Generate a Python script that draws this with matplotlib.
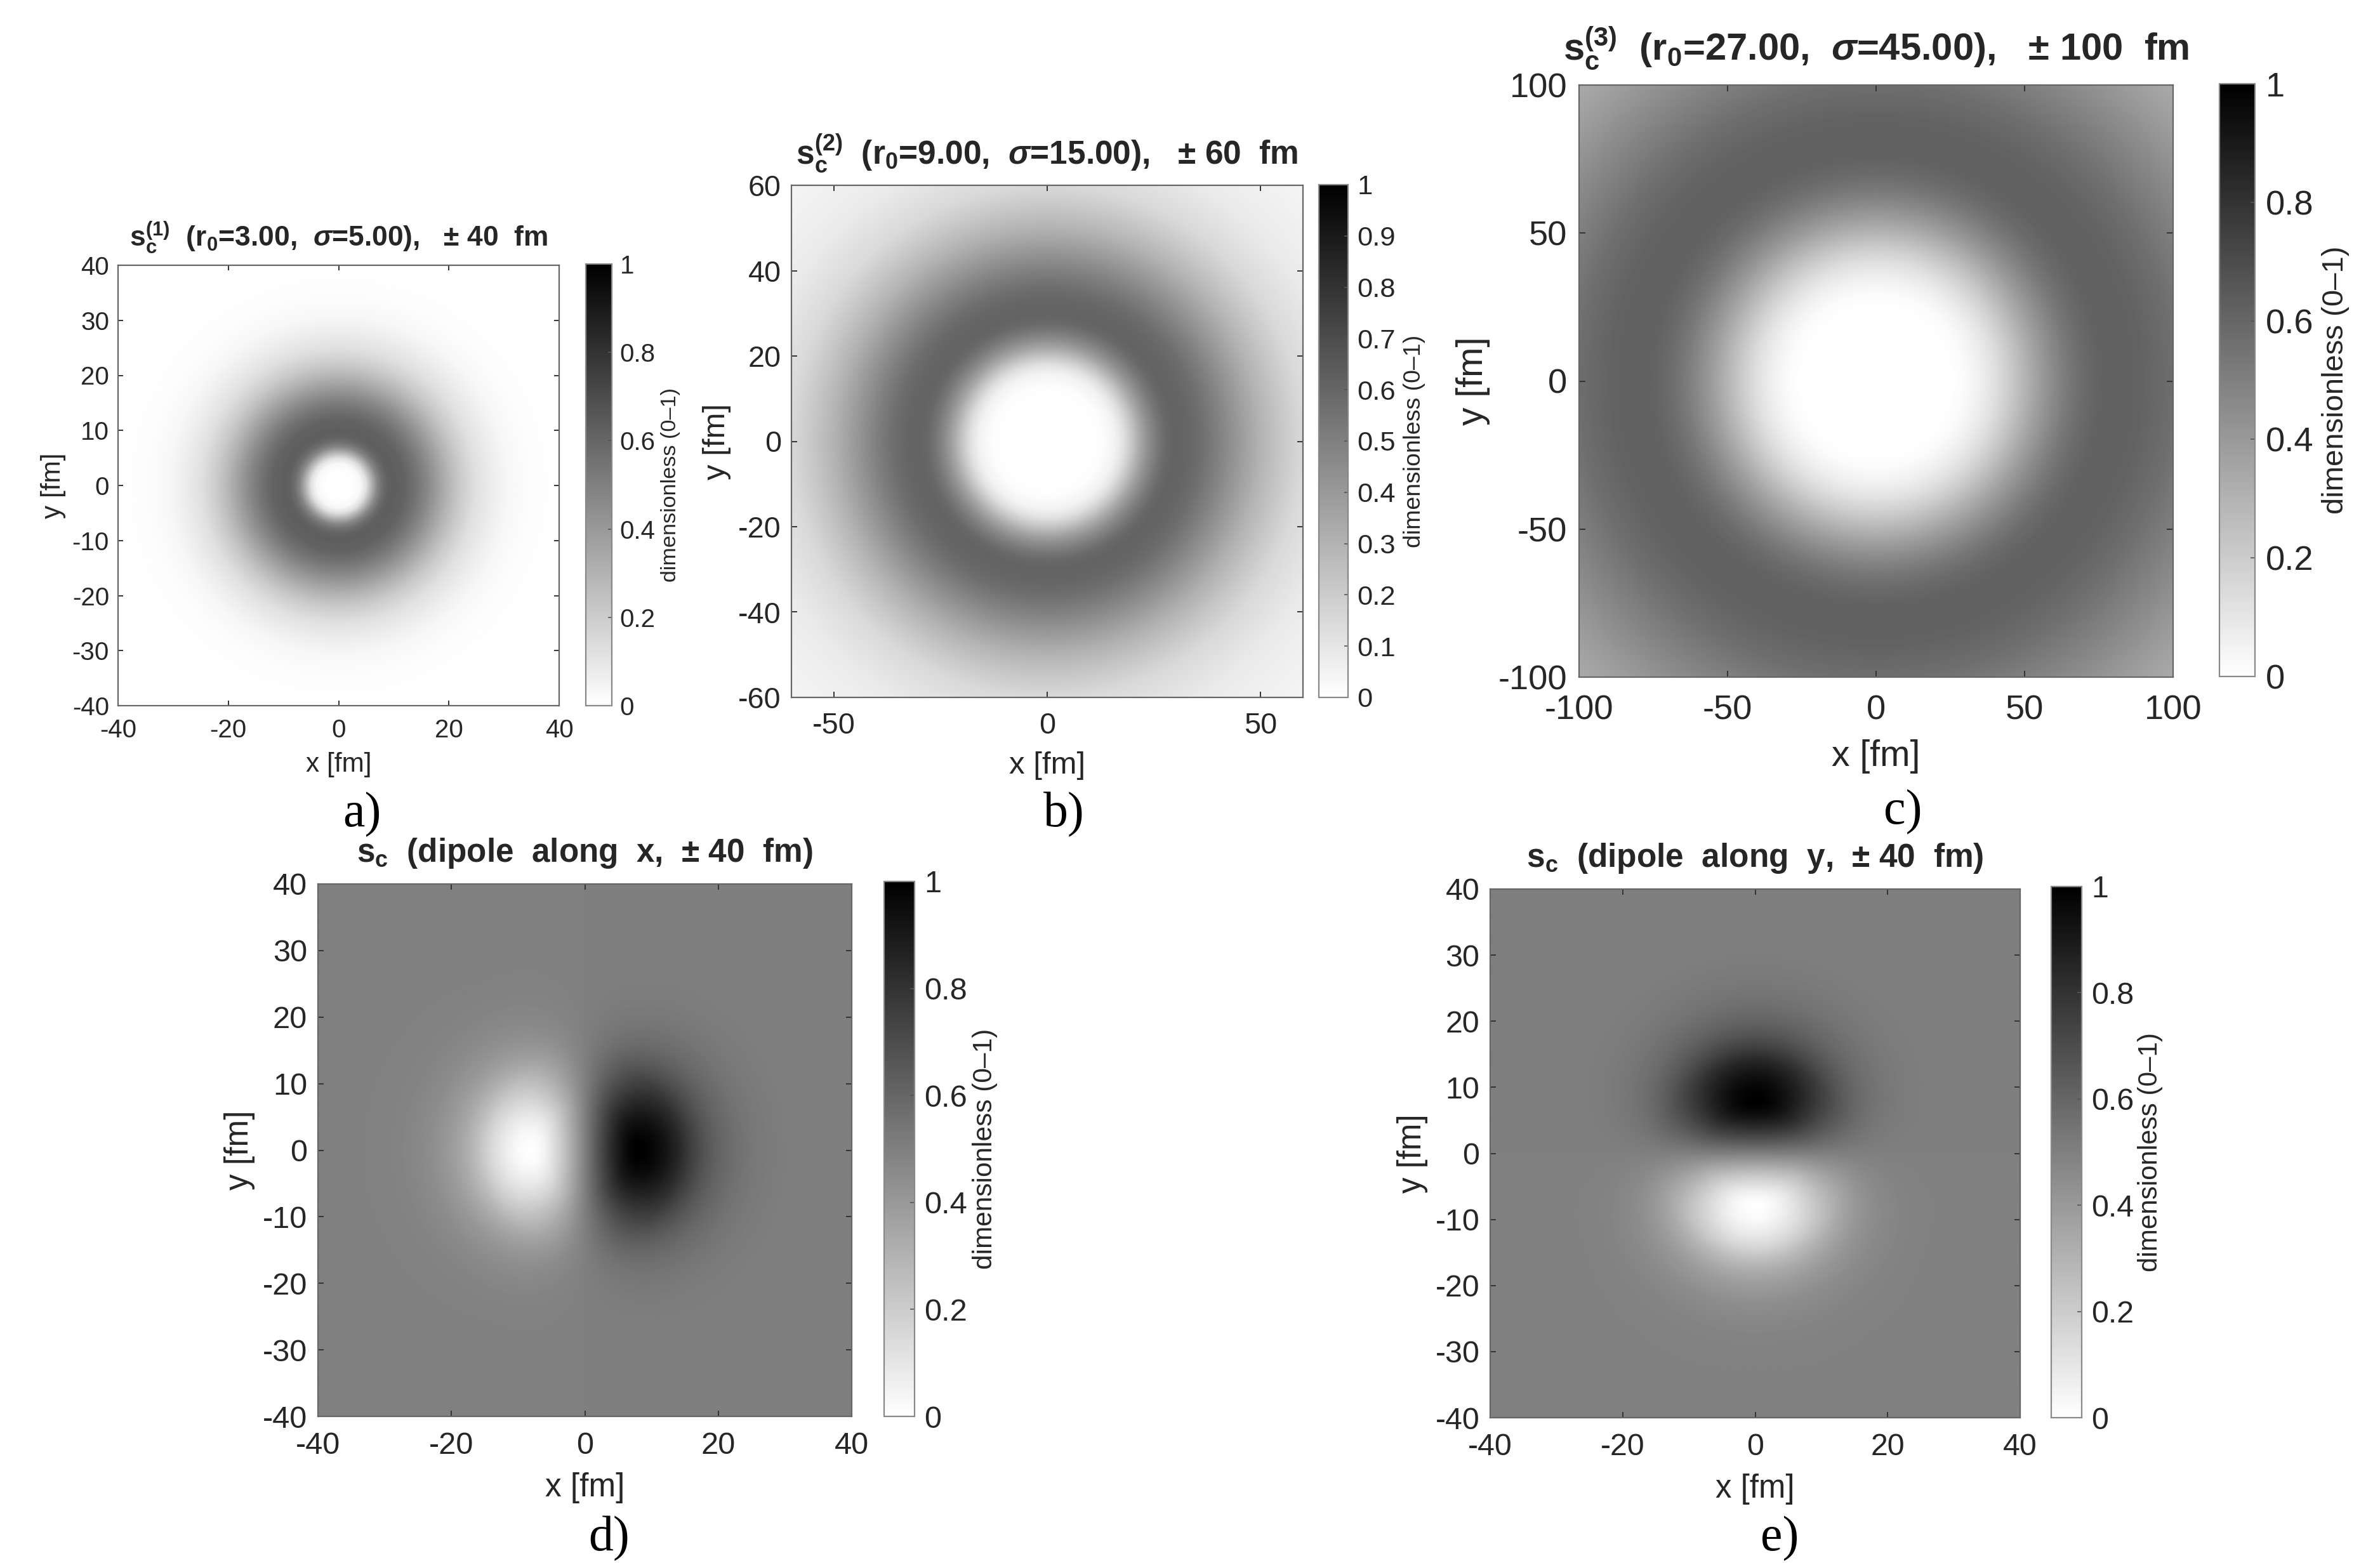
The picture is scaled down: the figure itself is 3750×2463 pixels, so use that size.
import numpy as np
import matplotlib
matplotlib.use('Agg')
import matplotlib.pyplot as plt

plt.rcParams['font.family'] = ['Liberation Sans', 'DejaVu Sans']
plt.rcParams['mathtext.fontset'] = 'custom'
plt.rcParams['mathtext.rm'] = 'Liberation Sans:bold'
plt.rcParams['mathtext.it'] = 'Liberation Sans:italic:bold'
plt.rcParams['mathtext.bf'] = 'Liberation Sans:bold'
plt.rcParams['axes.unicode_minus'] = False

# ---------------- data (radial profiles) ----------------
# panel a: r0=3, sigma=5, +-40 fm
r_a = [0, 2, 3, 4, 5, 6, 7, 8, 9, 10, 12, 14, 16, 18, 20, 22, 25, 28, 31, 35, 40, 57]
v_a = [0, 0, 0.01, 0.03, 0.12, 0.30, 0.47, 0.57, 0.62, 0.63, 0.61, 0.55, 0.47, 0.38, 0.29, 0.21, 0.12, 0.07, 0.03, 0.01, 0, 0]
# panel b: r0=9, sigma=15, +-60 fm
r_b = [0, 10, 13, 16, 18, 20, 22, 24, 26, 28, 30, 33, 36, 40, 45, 50, 55, 60, 70, 85]
v_b = [0, 0, 0.01, 0.05, 0.12, 0.23, 0.35, 0.45, 0.53, 0.59, 0.61, 0.60, 0.57, 0.50, 0.40, 0.30, 0.22, 0.15, 0.08, 0.04]
# panel c: r0=27, sigma=45, +-100 fm
r_c = [0, 25, 30, 35, 40, 45, 50, 55, 60, 65, 70, 75, 80, 90, 100, 110, 120, 130, 142]
v_c = [0, 0, 0.02, 0.06, 0.12, 0.20, 0.29, 0.38, 0.46, 0.53, 0.58, 0.61, 0.62, 0.61, 0.57, 0.51, 0.45, 0.39, 0.33]
# panels d, e: dipole lobe amplitude vs radius (+-40 fm), background 0.5
r_dip = [0, 2, 4, 6, 7, 8, 10, 12, 14, 16, 18, 20, 23, 26, 30, 35, 57]
h_dip = [0, 0.35, 0.66, 0.90, 0.97, 1.0, 0.96, 0.85, 0.70, 0.50, 0.34, 0.22, 0.11, 0.05, 0.015, 0.005, 0]
dip_background = 0.5

half_ranges = [40, 60, 100, 40, 40]
titles = [
    r'$\mathrm{s_c^{(1)}}$  (r$\mathrm{_0}$=3.00,  $\sigma$=5.00),   ± 40  fm',
    r'$\mathrm{s_c^{(2)}}$  (r$\mathrm{_0}$=9.00,  $\sigma$=15.00),   ± 60  fm',
    r'$\mathrm{s_c^{(3)}}$  (r$\mathrm{_0}$=27.00,  $\sigma$=45.00),   ± 100  fm',
    r'$\mathrm{s_c}$  (dipole  along  x,  ± 40  fm)',
    r'$\mathrm{s_c}$  (dipole  along  y,  ± 40  fm)',
]
title_scale = [1.1, 1.1, 1.1, 1.05, 1.06]
xticks_list = [[-40, -20, 0, 20, 40], [-50, 0, 50], [-100, -50, 0, 50, 100],
               [-40, -20, 0, 20, 40], [-40, -20, 0, 20, 40]]
yticks_list = [list(range(-40, 41, 10)), list(range(-60, 61, 20)), [-100, -50, 0, 50, 100],
               list(range(-40, 41, 10)), list(range(-40, 41, 10))]
cbticks_list = [[0, 0.2, 0.4, 0.6, 0.8, 1], [round(0.1 * i, 1) for i in range(11)],
                [0, 0.2, 0.4, 0.6, 0.8, 1], [0, 0.2, 0.4, 0.6, 0.8, 1], [0, 0.2, 0.4, 0.6, 0.8, 1]]
panel_letters = ['a)', 'b)', 'c)', 'd)', 'e)']
cb_label = 'dimensionless (0–1)'

# ---------------- layout (pixels) ----------------
W, H = 3750, 2463
# axes boxes: left, top, right, bottom
ax_boxes = [(186, 418, 881, 1112), (1247, 292, 2053, 1099), (2488, 134, 3424, 1067),
            (501, 1393, 1342, 2232), (2348, 1401, 3183, 2234)]
cb_boxes = [(923, 416, 964, 1112), (2078, 291, 2124, 1099), (3497, 132, 3553, 1066),
            (1393, 1389, 1441, 2232), (3232, 1397, 3280, 2234)]
cb_label_x = [1056, 2228, 3680, 1552, 3388]
cb_label_scale = [0.85, 0.8, 0.87, 0.87, 0.87]
cb_tick_scale = [1.0, 0.93, 1.0, 1.0, 1.0]
letter_pos = [(570, 1302), (1676, 1302), (2998, 1298), (960, 2443), (2804, 2443)]


def box(b):
    l, t, r, bt = b
    return [l / W, 1 - bt / H, (r - l) / W, (bt - t) / H]


fig = plt.figure(figsize=(W / 100, H / 100), dpi=100)
fig.patch.set_facecolor('white')

N = 501
fields = []
for i, L in enumerate(half_ranges):
    x = np.linspace(-L, L, N)
    X, Y = np.meshgrid(x, x)
    R = np.hypot(X, Y)
    if i == 0:
        Z = np.interp(R, r_a, v_a)
    elif i == 1:
        Z = np.interp(R, r_b, v_b)
    elif i == 2:
        Z = np.interp(R, r_c, v_c)
    else:
        h = np.interp(R, r_dip, h_dip)
        Rs = np.where(R == 0, 1, R)
        ang = X / Rs if i == 3 else Y / Rs
        Z = dip_background + 0.5 * h * ang
    fields.append(Z)

px2pt = 0.72
for i in range(5):
    L = half_ranges[i]
    axw = ax_boxes[i][2] - ax_boxes[i][0]
    fpx = 0.058 * axw
    fs = fpx * px2pt
    ax = fig.add_axes(box(ax_boxes[i]))
    im = ax.imshow(fields[i], extent=[-L, L, -L, L], origin='lower', cmap='gray_r',
                   vmin=0, vmax=1, aspect='auto', interpolation='bilinear')
    ax.set_xlim(-L, L)
    ax.set_ylim(-L, L)
    ax.set_xticks(xticks_list[i])
    ax.set_yticks(yticks_list[i])
    ax.tick_params(axis='both', direction='in', top=True, right=True,
                   length=0.011 * axw * px2pt, width=1.4, colors='#333333',
                   labelsize=fs, labelcolor='#262626')
    ax.tick_params(axis='x', pad=0.029 * axw * px2pt)
    ax.tick_params(axis='y', pad=0.02 * axw * px2pt)
    for s in ax.spines.values():
        s.set_color('#666666')
        s.set_linewidth(1.6)
    ax.set_xlabel('x [fm]', fontsize=fs * 1.05, color='#262626', labelpad=0.022 * axw * px2pt)
    ax.set_ylabel('y [fm]', fontsize=fs * 1.05, color='#262626', labelpad=0.014 * axw * px2pt)
    ax.set_title(titles[i], fontsize=fs * title_scale[i], fontweight='bold', color='#262626',
                 pad=0.042 * axw * px2pt)

    cax = fig.add_axes(box(cb_boxes[i]))
    cb = fig.colorbar(im, cax=cax, ticks=cbticks_list[i])
    cb.ax.set_yticklabels([f'{t:g}' for t in cbticks_list[i]])
    cb.ax.tick_params(direction='in', length=0.008 * axw * px2pt, width=1.2,
                      colors='#555555', labelsize=fs * cb_tick_scale[i], labelcolor='#262626',
                      pad=0.018 * axw * px2pt)
    cb.outline.set_edgecolor('#888888')
    cb.outline.set_linewidth(1.6)
    cyc = (cb_boxes[i][1] + cb_boxes[i][3]) / 2
    fig.text(cb_label_x[i] / W, 1 - cyc / H, cb_label, rotation=90, ha='center', va='center',
             fontsize=fs * cb_label_scale[i], color='#262626')

    lx, ly = letter_pos[i]
    fig.text(lx / W, 1 - ly / H, panel_letters[i], ha='center', va='baseline',
             fontsize=56, family=['Liberation Serif', 'DejaVu Serif'], color='black')

fig.savefig('out.png', dpi=100, facecolor='white')
